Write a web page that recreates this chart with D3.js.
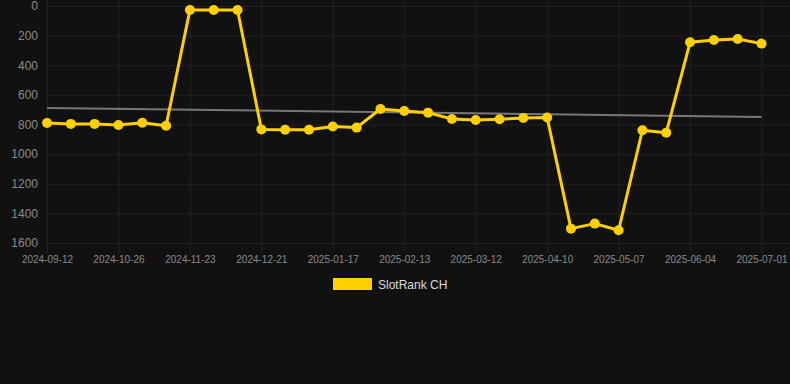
<!DOCTYPE html>
<html lang="en">
<head>
    <meta charset="UTF-8">
    <title>SlotRank CH</title>
    <style>
        body {
            margin: 0;
            background: #111111;
            font-family: Arial, 'Liberation Sans', sans-serif;
        }
        svg {
            display: block;
            background-color: #111111;
        }
    </style>
</head>
<body>
    <svg width="790" height="384"></svg>
    <script src="https://d3js.org/d3.v7.min.js"></script>
    <script>
        // Dates on the category axis (every third one gets a label)
        var dates = [
            "2024-09-12", "2024-09-27", "2024-10-11", "2024-10-26", "2024-11-04",
            "2024-11-14", "2024-11-23", "2024-12-02", "2024-12-12", "2024-12-21",
            "2024-12-30", "2025-01-08", "2025-01-17", "2025-01-26", "2025-02-04",
            "2025-02-13", "2025-02-22", "2025-03-03", "2025-03-12", "2025-03-22",
            "2025-04-01", "2025-04-10", "2025-04-19", "2025-04-28", "2025-05-07",
            "2025-05-16", "2025-05-26", "2025-06-04", "2025-06-13", "2025-06-22",
            "2025-07-01"
        ];

        // Rank values
        var ranks = [
            790, 796, 796, 803, 788, 808, 27, 27, 27, 833,
            835, 835, 814, 821, 695, 709, 720, 763, 770, 765,
            756, 753, 1503, 1469, 1514, 839, 855, 245, 230, 223,
            254
        ];

        // Trend line value at first and last date
        var trend = [688, 749];

        var yTicks = [0, 200, 400, 600, 800, 1000, 1200, 1400, 1600];
        var seriesName = "SlotRank CH";

        var svg = d3.select("svg"),
            plotLeft = 47, plotRight = 761.5, plotTop = 6, plotBottom = 243;

        var x = d3.scalePoint().domain(dates).range([plotLeft, plotRight]);
        var y = d3.scaleLinear().domain([0, 1600]).range([plotTop, plotBottom]);

        var gridColor = "#222222",
            tickColor = "#8a8a8a";

        // Horizontal grid lines + y axis labels
        var yAxis = d3.axisLeft(y).tickValues(yTicks).tickFormat(d3.format("d"))
            .tickSize(0).tickPadding(9);
        var gy = svg.append("g")
            .attr("transform", "translate(" + plotLeft + ",0)")
            .call(yAxis);
        gy.select(".domain").remove();
        gy.selectAll("text")
            .attr("fill", tickColor)
            .attr("font-size", "12px")
            .attr("font-family", "Arial, 'Liberation Sans', sans-serif");
        gy.selectAll(".tick").append("line")
            .attr("x1", 0)
            .attr("x2", 790 - plotLeft)
            .attr("stroke", gridColor)
            .attr("stroke-width", 1);

        // Vertical grid lines + x axis labels (every third date)
        var xLabels = dates.filter(function(d, i) { return i % 3 === 0; });
        var xAxis = d3.axisBottom(x).tickValues(xLabels).tickSize(0).tickPadding(13);
        var gx = svg.append("g")
            .attr("transform", "translate(0," + plotBottom + ")")
            .call(xAxis);
        gx.select(".domain").remove();
        gx.selectAll("text")
            .attr("fill", tickColor)
            .attr("font-size", "10px")
            .attr("font-family", "Arial, 'Liberation Sans', sans-serif");
        gx.selectAll(".tick").append("line")
            .attr("y1", -plotBottom)
            .attr("y2", 10)
            .attr("stroke", gridColor)
            .attr("stroke-width", 1);

        // Trend line
        svg.append("line")
            .attr("x1", x(dates[0]))
            .attr("y1", y(trend[0]))
            .attr("x2", x(dates[dates.length - 1]))
            .attr("y2", y(trend[1]))
            .attr("stroke", "#777777")
            .attr("stroke-width", 2);

        // Rank line
        var line = d3.line()
            .x(function(d, i) { return x(dates[i]); })
            .y(function(d) { return y(d); });

        svg.append("path")
            .datum(ranks)
            .attr("fill", "none")
            .attr("stroke", "#FFD000")
            .attr("stroke-width", 3)
            .attr("stroke-linejoin", "round")
            .attr("d", line);

        svg.selectAll(".dot")
            .data(ranks)
            .enter().append("circle")
            .attr("class", "dot")
            .attr("cx", function(d, i) { return x(dates[i]); })
            .attr("cy", function(d) { return y(d); })
            .attr("r", 5)
            .attr("fill", "#FFD000");

        // Legend
        var legend = svg.append("g").attr("transform", "translate(333,278)");
        legend.append("rect")
            .attr("width", 39)
            .attr("height", 12)
            .attr("fill", "#FFD000");
        legend.append("text")
            .attr("x", 45)
            .attr("y", 10.5)
            .attr("fill", "#dddddd")
            .attr("font-size", "12px")
            .attr("font-family", "Arial, 'Liberation Sans', sans-serif")
            .text(seriesName);
    </script>
</body>
</html>
